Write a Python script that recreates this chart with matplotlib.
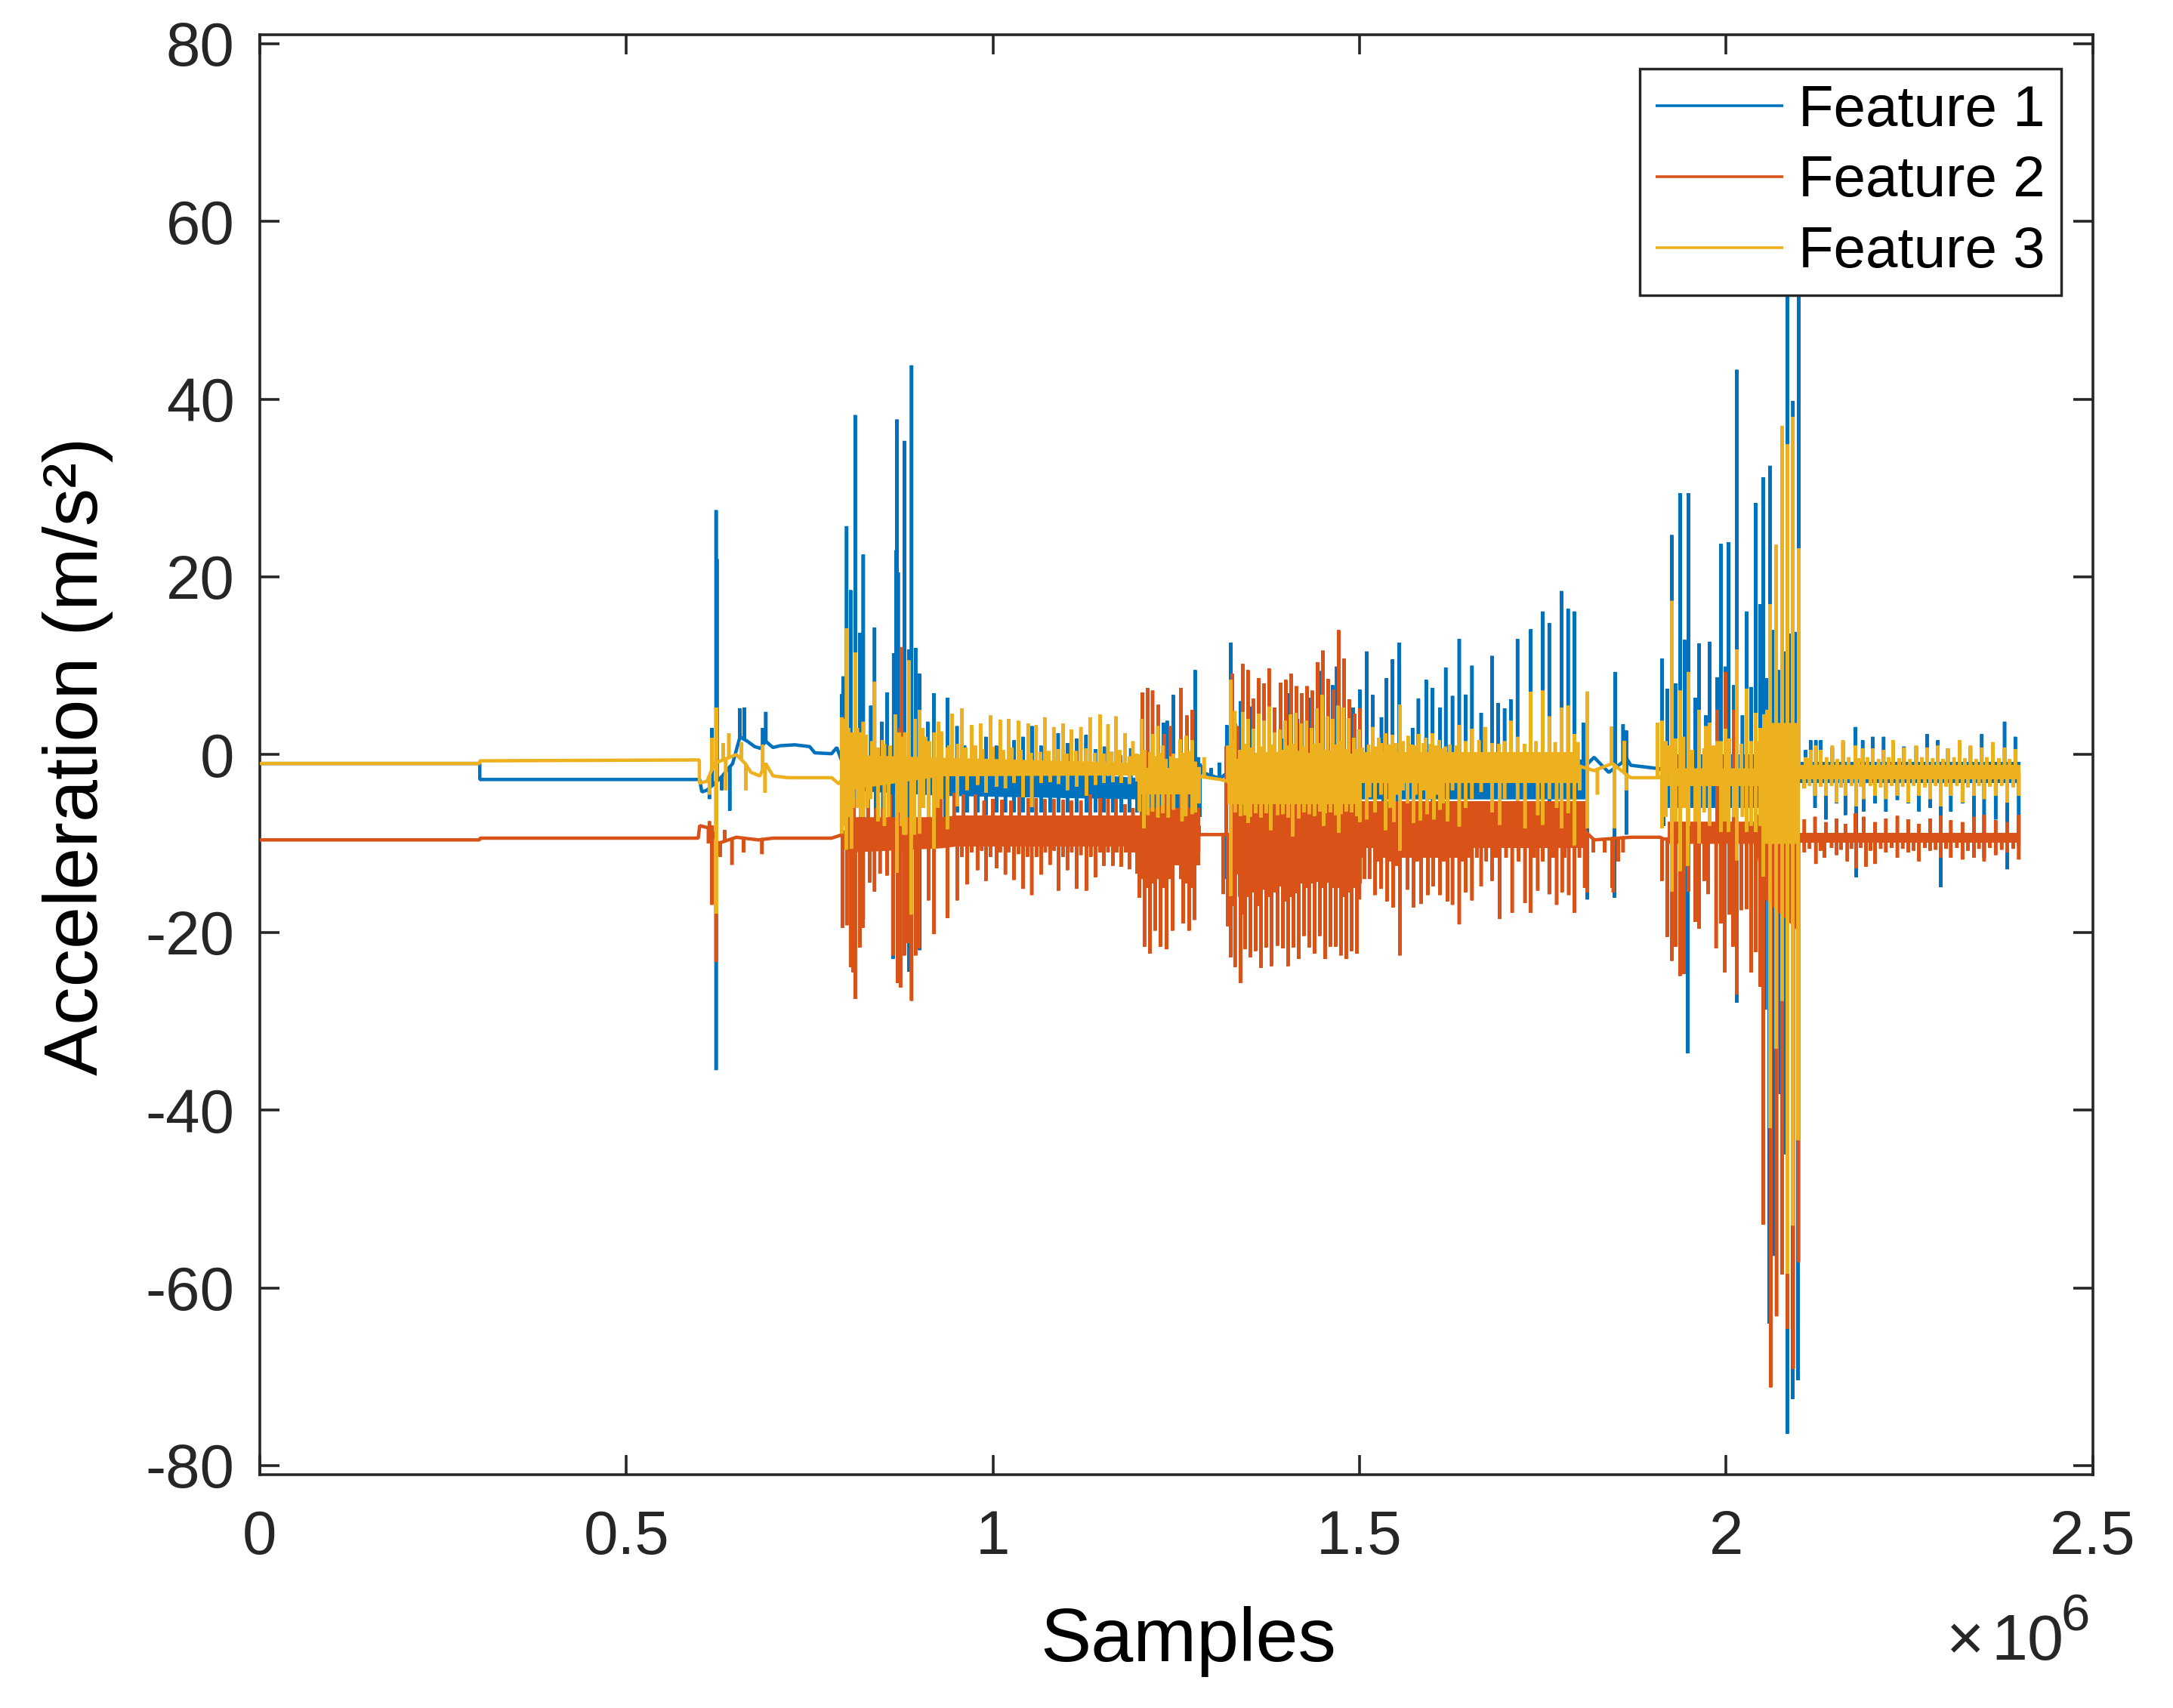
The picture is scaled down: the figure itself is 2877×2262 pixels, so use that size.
import numpy as np
import matplotlib
matplotlib.use("Agg")
import matplotlib.pyplot as plt

W, H, DPI = 2877, 2262, 300
plt.rcParams['font.family'] = ['Liberation Sans', 'DejaVu Sans']
plt.rcParams['axes.unicode_minus'] = False

x_ticks = [0, 0.5e6, 1e6, 1.5e6, 2e6, 2.5e6]
x_labels = ['0', '0.5', '1', '1.5', '2', '2.5']
y_ticks = [-80, -60, -40, -20, 0, 20, 40, 60, 80]
y_labels = ['-80', '-60', '-40', '-20', '0', '20', '40', '60', '80']
names = ['Feature 1', 'Feature 2', 'Feature 3']

# slow baseline of each series: (samples / 1e6, value)
f1_mid = [(0,-1),(.3,-1),(.3001,-2.8),(.6,-2.8),(.603,-4.2),(.61,-4),(.63,-2.5),(.645,-1),(.655,2),(.665,1.5),
          (.675,.9),(.683,.7),(.69,1.5),(.70,.8),(.71,1),(.73,1.1),(.75,.9),(.757,.2),(.78,.1),(.787,.8),(.795,-1),
          (1.2,-3.5),(1.285,-2),(1.31,-2.7),(1.32,-2),(1.5,-2.5),(1.8,-2),(1.82,-.3),(1.84,-2),(1.865,-.5),
          (1.87,-1.2),(1.91,-1.6),(1.915,-2),(2.1,-2),(2.4013,-2)]
f2_mid = [(0,-9.6),(.3,-9.6),(.3001,-9.4),(.598,-9.4),(.6,-8),(.615,-8.3),(.625,-10),(.65,-9.3),(.68,-9.6),(.70,-9.4),
          (.78,-9.4),(.795,-9),(.8,-8.5),(1.2,-9),(1.285,-9),(1.32,-9),(1.5,-9),(1.8,-8),(1.82,-9.6),(1.87,-9.3),
          (1.91,-9.3),(1.915,-9.5),(2.4013,-9.2)]
f3_mid = [(0,-1),(.3,-1),(.3001,-.7),(.5995,-.6),(.5996,-3.2),(.61,-3),(.62,-1),(.65,0),(.662,-1),(.67,-2),(.682,-2.4),
          (.69,-1),(.70,-2.4),(.72,-2.6),(.78,-2.6),(.79,-3.3),(.8,-2),(.93,-1.2),(1.2,-1.6),(1.285,-2.5),(1.31,-2.8),
          (1.32,-3),(1.5,-2.8),(1.8,-1.3),(1.82,-1.8),(1.845,-1),(1.865,-2.3),(1.87,-2.6),(1.91,-2.6),(1.915,-2),
          (2.1,-2),(2.4013,-2)]

# solid core of the dense parts: (samples / 1e6, upper, lower)
f1_core = [[(.80,-1,-4),(.93,-1,-4.6),(1.2,-2.6,-5)], [(1.2,-1,-7),(1.285,-1,-7)], [(1.322,0,-7),(1.5,-.5,-6),(1.5,-.5,-5),(1.81,-.5,-5)],
           [(1.92,0,-6),(2.1,0,-6)], [(2.1,-.8,-3.2),(2.4013,-.8,-3.2)]]
f2_core = [[(.80,-7,-11),(.93,-7,-10.5),(.95,-6.8,-10.3),(1.2,-6.8,-10.3)], [(1.2,-6,-12.5),(1.283,-6,-12.5)],
           [(1.322,-5.5,-13.5),(1.5,-5.5,-13.5)], [(1.5,-5.2,-10.5),(1.81,-5.2,-10.5)],
           [(1.92,-7.5,-10),(2.04,-7.5,-10),(2.05,-5,-16),(2.1,-5,-20)], [(2.1,-8.8,-9.9),(2.4013,-8.8,-9.9)]]
f3_core = [[(.80,0,-4),(.93,-.3,-2.4),(1.2,-.9,-2.3)], [(1.2,-1.5,-4.5),(1.283,-1.5,-4.5)],
           [(1.32,-.5,-5.6),(1.5,-.5,-5.6)], [(1.5,.3,-3.2),(1.8,.3,-3.2)],
           [(1.92,-1.5,-3.5),(2.045,-1.5,-3.5),(2.05,3.6,-10),(2.1,3.6,-10)], [(2.1,-1.2,-2.8),(2.4013,-1.2,-2.8)]]

# peaks and troughs: (samples / 1e6, value)
f1_peaks = [(.6166,3),(.6224,27.5),(.6235,22),(.6545,5.2),(.6608,5.3),(.686,3),(.6902,4.8),
            (.794,6.8),(.7956,8.8),(.8004,25.7),(.8059,18.5),(.8121,38.2),(.8183,13.7),(.8231,22.5),(.8334,5.5),
            (.8385,14.3),(.8482,3.7),(.8554,7),(.8646,11.4),(.8682,23),(.8691,37.7),(.8707,20.5),(.8791,35.3),(.8853,11.8),
            (.889,43.8),(.8945,12),(.8997,9.1),(.911,3.7),(.9193,6.9),(.9378,6.4),(.951,3.2),(.9613,1),(.972,.5),(.9904,2),
            (1.0048,1),(1.029,1.6),(1.0409,2),(1.0532,3.2),(1.0656,1),(1.089,2.4),(1.1016,1.3),(1.114,1.8),(1.127,2.2),
            (1.14,.6),(1.152,.9),(1.162,.3),(1.174,-.1),(1.188,.7),(1.2325,3.6),(1.2376,3.8),(1.246,6.7),(1.2758,9.5),
            (1.28,-.3),(1.284,-1.2),(1.2974,-1.5),(1.3088,-.9),(1.319,3.3),(1.3242,12.6),(1.3303,3.5),(1.3376,6),(1.352,5.4),
            (1.3767,3.8),(1.384,2.4),(1.3953,1.8),(1.4035,6.9),(1.4155,4),(1.433,6.4),(1.4478,9.4),(1.4633,7.8),
            (1.469,9.9),(1.4912,5.3),(1.5004,7.3),(1.5097,11.6),(1.518,6.7),(1.53,4.2),(1.5367,8.6),(1.545,10.7),(1.5542,12.6),
            (1.5724,3),(1.5804,6.3),(1.591,8.4),(1.5997,7.5),(1.6098,5.3),(1.6177,9.8),(1.6269,6.6),(1.6361,13),
            (1.6448,6.75),(1.6535,10),(1.666,4.7),(1.6807,11.1),(1.689,5.8),(1.698,5.2),(1.7064,6.2),(1.7156,13),(1.7336,14.1),
            (1.7497,16.1),(1.7589,14.8),(1.7755,18.4),(1.7846,16.4),(1.793,16.1),(1.8053,3.6),(1.8486,9.3),(1.8596,3.4),(1.864,2.7),
            (1.9126,10.8),(1.92,7.4),(1.926,24.7),(1.9312,8),(1.9373,29.4),(1.9435,12.9),(1.9487,29.4),(1.958,6.4),(1.9631,12.5),
            (1.9724,4.4),(1.9775,12.7),(1.9878,8.7),(1.993,23.7),(1.9992,9.9),(2.0033,23.9),(2.0105,7.8),(2.0146,43.3),
            (2.0224,4.4),(2.028,16.1),(2.0342,7.6),(2.0404,28.3),(2.0466,16.9),(2.0507,31.2),(2.056,8.6),(2.06,32.5),(2.0638,14),
            (2.0682,23),(2.0714,9.5),(2.0795,11.6),(2.0837,58),(2.0878,13.6),(2.0913,39.8),(2.0947,13.8),(2.0991,58),
            (2.1087,.5),(2.1154,1.6),(2.1225,1.6),(2.1292,1.6),(2.145,.8),(2.1596,1.4),(2.1766,3.1),(2.1864,1.6),(2.2,2),(2.215,2),
            (2.2278,.9),(2.2428,.9),(2.2594,.9),(2.2743,2.3),(2.289,1.6),(2.3027,.7),(2.3185,1.4),(2.3335,.9),(2.3489,2.3),
            (2.3639,.9),(2.38,3.7),(2.3946,2)]
f1_dips = [(.6132,-5),(.6224,-35.5),(.63,-4),(.641,-6.3),(.8,-9),(.81,-10),(.82,-10),(.84,-9),(.85,-8),(.86,-8),(.8231,-18.5),(.8636,-23),
           (.8853,-24.4),(.9,-22),(.935,-7),
           (.9512,-6.5),(.9646,-6.5),(.979,-6.5),(.9904,-6.8),(1.0048,-6.5),(1.017,-6.5),(1.0285,-6.5),(1.0409,-6.5),(1.0532,-6.5),
           (1.0656,-6.5),(1.0779,-6.5),(1.0893,-6.5),(1.1016,-6.5),(1.114,-6.5),(1.1274,-6.5),(1.1398,-6.5),(1.1514,-6.5),
           (1.1635,-6.5),(1.1748,-6.5),(1.1861,-6.5),(1.1965,-6.5),(1.2305,-12),(1.2518,-10),(1.2758,-8.5),(1.318,-14),
           (1.358,-9),(1.373,-9.5),(1.5323,-10.2),(1.5416,-11.7),(1.551,-11.2),(1.6,-9),(1.7589,-15.7),(1.8109,-16.3),(1.8477,-16.1),
           (1.864,-9),(1.915,-8),(1.9476,-33.6),(2.0146,-27.9),(2.0534,-28.7),(2.0589,-64),(2.065,-56.4),(2.074,-38.2),(2.0805,-45),
           (2.0837,-76.4),(2.0909,-72.5),(2.0981,-70.4),(2.1068,-3.8),(2.1214,-6),(2.1363,-7.3),(2.151,-5.5),(2.1628,-6.8),(2.1778,-13.8),
           (2.1876,-6.4),(2.2034,-5.5),(2.2181,-6.4),(2.2337,-5.1),(2.2487,-5.5),(2.2633,-6.4),(2.2783,-6),(2.293,-14.9),(2.3067,-6.4),
           (2.3225,-5.5),(2.3382,-11.6),(2.3521,-11.6),(2.3678,-7.3),(2.3836,-12.9),(2.3994,-10.3)]

f2_peaks = [(.6132,-7.5),(.617,-8),(.634,-8.5),(.875,12.1),(.8734,3),(.9121,-1.7),(.9292,-4.3),(.947,-4.3),(.96,-4.5),(.976,-4.5),
            (.801,-5),(.81,-5),(.82,-4.5),(.83,-4),(.84,-6),(.85,-6),(.86,-4.5),(.87,-3),(.88,-5),(.89,-4),(.90,-6),(.925,-3),
            (.988,-5.2),(1.0,-5),(1.0125,-5.1),(1.0246,-5.2),(1.036,-4.8),(1.048,-4.9),
            (1.059,-4.9),(1.0707,-5),(1.083,-5),(1.096,-5.1),(1.107,-5.2),(1.12,-5.2),(1.1325,-4.5),(1.146,-4.9),(1.157,-5),(1.1676,-5),(1.18,-5.6),(1.191,-6),
            (1.207,-5.5),(1.2145,-6),(1.2215,-6.2),(1.229,-5.8),(1.2376,-5.8),(1.25,-6.5),(1.2599,-6),(1.2675,-6),(1.276,-7),(1.281,-8),
            (1.2037,7),(1.2109,7.5),(1.2178,7.2),(1.2256,5.6),(1.2336,2.3),(1.2421,3.2),(1.2562,7.5),(1.2645,4.4),(1.2717,5),
            (1.318,.9),(1.3263,9.1),(1.3333,3.2),(1.3407,10.2),(1.3479,9.5),(1.3551,6.3),(1.3623,8.6),(1.3695,8),(1.3767,9.7),
            (1.384,5.3),(1.3922,8.1),(1.3994,8.4),(1.4066,9.1),(1.4138,7.7),(1.4211,6.9),(1.4283,7.7),(1.4355,7.2),(1.4427,10.4),
            (1.4499,11.7),(1.4571,8.5),(1.4643,7.3),(1.4716,14),(1.4788,10.8),(1.486,6.2),(1.4932,4.6),(1.5004,5.2),
            (1.9878,5),(1.9992,9.3),(2.0105,5),
            (2.1068,-7.3),(2.1214,-7),(2.1363,-7.6),(2.151,-7.2),(2.1628,-7.8),(2.1766,-6.6),(2.1876,-7),(2.2034,-7.6),(2.2181,-7.2),
            (2.2337,-6.9),(2.2487,-7.3),(2.2633,-7.8),(2.2783,-7.2),(2.293,-6.9),(2.3067,-7.4),(2.3225,-7.6),(2.3382,-7),(2.3521,-6.8),
            (2.3678,-7.4),(2.3836,-7.6),(2.3994,-6.8)]
f2_dips = [(.612,-10),(.6166,-16.9),(.6224,-23.3),(.6282,-11.5),(.644,-12.4),(.66,-11),(.685,-11.2),
           (.7946,-19.5),(.8007,-19.2),(.8059,-23.9),(.8095,-24.5),(.8121,-27.5),(.8183,-21.7),(.8224,-19.5),(.8317,-14.4),(.8385,-15.4),
           (.846,-13.4),(.8554,-13.6),(.8636,-22.6),(.8698,-25.7),(.8739,-26.2),(.8791,-22.6),(.8842,-21.2),(.889,-27.7),(.8945,-22.6),
           (.8987,-21.8),(.9121,-16.4),(.9193,-20.2),(.9378,-18.4),(.9512,-16.4),(.9646,-14.6),(.979,-13),(.9904,-14.2),(1.0048,-12.8),
           (1.017,-13.5),(1.0285,-14.1),(1.0409,-15.1),(1.053,-15.8),(1.0656,-13.5),(1.0779,-12.4),(1.0893,-15.3),(1.1016,-13),
           (1.114,-15.1),(1.1274,-15.3),(1.1398,-13.8),(1.1514,-12.5),(1.1635,-12.5),(1.1748,-12.6),(1.1861,-12.9),(1.1965,-13.4),
           (.9575,-11.5),(.9708,-11),(.9848,-10.8),(.9966,-11.5),(1.0099,-11),(1.0213,-11),(1.0347,-11.2),(1.047,-11.5),
           (1.0596,-11.5),(1.0715,-11),(1.0835,-10.8),(1.0955,-11.5),(1.1075,-11),(1.12,-11.3),(1.1335,-11.5),(1.146,-11),(1.157,-11),(1.169,-11),(1.181,-11),(1.1915,-11),
           (1.2037,-14),(1.2109,-15),(1.2178,-14.5),(1.2256,-14),(1.2325,-15),(1.2421,-14),(1.2562,-14),(1.2634,-14.5),(1.2717,-15),
           (1.2,-16.1),(1.2067,-21.6),(1.214,-22.4),(1.2212,-19.8),(1.2284,-21.6),(1.2366,-21.9),(1.2449,-19.8),(1.2531,-11.7),(1.2593,-19),
           (1.2675,-19.8),(1.275,-18.6),(1.2806,-11),(1.314,-15.7),(1.3204,-19.3),(1.3242,-22.8),(1.3303,-23.9),(1.3376,-25.7),(1.3438,-21.9),
           (1.351,-22.8),(1.3582,-22.1),(1.3654,-24),(1.3726,-21.7),(1.3798,-23.8),(1.3881,-21.5),(1.3953,-21.8),(1.4025,-23.8),(1.4097,-21.7),
           (1.417,-23),(1.4241,-20.4),(1.4313,-21.7),(1.4386,-22.4),(1.4458,-20.4),(1.453,-23),(1.4602,-21.6),(1.4674,-21.6),(1.4746,-22.6),
           (1.4819,-23),(1.4891,-22.1),(1.4963,-22.4),
           (1.3206,-15),(1.3278,-17),(1.337,-16),(1.3407,-18),(1.3479,-16),(1.3551,-15.5),(1.3623,-17),(1.3695,-15.2),(1.3767,-16),(1.384,-15.5),
           (1.3922,-14.8),(1.3994,-16.5),(1.4066,-16),(1.4138,-15.6),(1.4211,-14.5),(1.4283,-15),(1.4355,-14.5),(1.4427,-14.3),(1.4499,-15),
           (1.4571,-14.4),(1.4643,-15),(1.4716,-15),(1.4788,-16),(1.486,-15.5),(1.4932,-15),(1.5004,-14.5),
           (1.5,-16.3),(1.507,-14),(1.5137,-14),(1.521,-15.8),(1.5293,-15.1),(1.5375,-16.5),
           (1.5458,-17.2),(1.555,-22.6),(1.5653,-15.2),(1.5736,-17.2),(1.5839,-16.8),(1.5931,-15.8),(1.6004,-14.8),(1.6096,-15.8),(1.6199,-16.5),
           (1.6269,-16.9),(1.6361,-19.1),(1.6448,-15.5),(1.6535,-16.4),(1.666,-14.8),(1.6807,-14.2),(1.6913,-18.5),(1.7083,-17.8),(1.7258,-16.7),
           (1.7336,-17.8),(1.7432,-15.3),(1.7589,-15.7),(1.769,-16.9),(1.7764,-15.5),(1.7855,-15.8),(1.793,-17.8),(1.8072,-15),(1.8109,-15.5),
           (1.5045,-11.6),(1.525,-12),(1.5335,-11.6),(1.5415,-12),(1.5504,-12.5),(1.5601,-11.6),(1.5695,-11.6),(1.5787,-12),(1.5885,-11.6),(1.5968,-11.6),
           (1.605,-11.6),(1.6148,-12),(1.6233,-11.6),(1.632,-11.6),(1.641,-12),(1.649,-11.6),(1.66,-11.6),(1.673,-12),(1.686,-11.6),(1.7,-11.6),(1.717,-12),
           (1.738,-11.6),(1.75,-12),(1.764,-11.6),(1.78,-11.6),(1.80,-11.6),
           (1.8192,-11),(1.8345,-11),(1.8448,-15),(1.8463,-15.5),(1.853,-12),(1.8596,-11),
           (1.9126,-14.2),(1.9198,-20.5),(1.926,-23.2),(1.9312,-21.6),(1.9373,-24.9),(1.9425,-24.7),(1.9487,-15.4),(1.958,-18.8),(1.9631,-19.6),
           (1.9703,-14.2),(1.9755,-15.7),(1.9865,-21.8),(1.993,-19),(1.9981,-24.5),(2.0043,-18),(2.0095,-21.6),(2.0146,-27),(2.0208,-17.5),
           (2.028,-17.4),(2.0342,-24.5),(2.0404,-22.2),(2.0466,-26.1),(2.0507,-52.9),(2.061,-71.2),(2.0689,-63.2),(2.0765,-58.5),(2.0837,-64.6),
           (2.0916,-69.1),(2.0988,-57.1),(2.1068,-11),(2.1225,-12.3),(2.1342,-11.6),(2.151,-11.3),(2.1655,-12),(2.1778,-12.8),(2.191,-12.6),
           (2.2034,-12.3),(2.2181,-11),(2.2337,-11.6),(2.2487,-11),(2.2633,-12),(2.2783,-10.8),(2.293,-11.6),(2.3067,-11.6),(2.3225,-11.8),
           (2.3382,-11.6),(2.3521,-12),(2.3678,-11.3),(2.3836,-11),(2.3994,-11.8),
           (2.114,-10.6),(2.129,-10.8),(2.144,-10.5),(2.157,-10.7),(2.171,-10.6),(2.184,-10.5),(2.197,-10.8),(2.211,-10.6),(2.226,-10.5),(2.241,-10.6),
           (2.256,-10.8),(2.271,-10.5),(2.286,-10.7),(2.3,-10.6),(2.315,-10.5),(2.33,-10.8),(2.345,-10.6),(2.36,-10.5),(2.376,-10.7),(2.392,-10.6)]

f3_peaks = [(.6166,1.9),(.6229,5.3),(.6319,1.3),(.6398,2.4),(.6571,1.4),(.686,1.1),
            (.794,4.2),(.8004,14.2),(.8121,11.5),(.8231,3.7),(.8385,8.2),(.8492,1.6),(.8667,4.5),(.8853,10.6),(.8997,5),(.908,2),
            (.797,4),(.803,3),(.808,2.5),(.815,3),(.82,2.5),(.827,2.2),(.835,1.5),(.843,.8),(.852,1.2),(.86,1),(.872,2.5),(.876,2),(.88,2.5),
            (.894,4),(.9045,3),(.9135,1.5),(.92,2.5),(.93,2.6),(.94,1),
            (.9258,3.7),(.9378,.8),(.9440,4.6),(.9575,5.2),(.9708,3.3),(.9831,3.5),(.9966,4.4),(1.0099,3.9),(1.0213,4),(1.0347,3.8),
            (1.048,3.5),(1.059,3.3),(1.0707,4.2),(1.083,3.1),(1.096,3.5),(1.107,2.8),(1.12,3.1),(1.1325,4.2),(1.146,4.5),(1.157,3.4),
            (1.1676,4.3),(1.18,2.4),(1.191,1.5),
            (.952,1.2),(.963,.8),(.976,1),(.986,.6),(1.0,.9),(1.014,.5),(1.026,.8),(1.038,.5),(1.052,.2),(1.065,.3),(1.076,.4),(1.089,.6),
            (1.101,.1),(1.113,.4),(1.127,.7),(1.139,.2),(1.151,.1),(1.162,.3),(1.173,.5),(1.186,-.2),(1.196,.1),
            (1.203,4),(1.218,2.3),(1.225,3.2),(1.232,1),(1.246,.1),(1.2555,1.7),(1.2634,2.1),(1.2717,1.6),
            (1.2,0),(1.207,.5),(1.2145,.3),(1.2215,-.2),(1.229,.2),(1.236,-.5),(1.243,-.2),(1.25,-.4),(1.259,.2),(1.2675,.4),(1.276,-.8),(1.281,-1.4),
            (1.288,-.3),(1.3242,8.4),(1.33,4.9),(1.3407,4.8),(1.3479,4),(1.3551,2.9),(1.3623,4.6),(1.3695,3.8),(1.3767,5.4),(1.384,2.5),
            (1.3912,2.8),(1.3984,3.8),(1.4059,4.5),(1.4128,4.7),(1.42,3.5),(1.4272,3.8),(1.4345,3),(1.4417,5.2),(1.4489,6.7),(1.4561,4.3),
            (1.4633,4),(1.4705,5.5),(1.4777,5.3),(1.485,4.1),(1.4922,1.9),(1.4994,2.8),
            (1.3206,1),(1.3278,1.5),(1.337,.5),(1.3443,1.2),(1.3515,.8),(1.3587,.2),(1.3659,.9),(1.3731,.3),(1.3803,1.1),(1.3876,.3),(1.3948,.5),
            (1.402,1),(1.4094,1.2),(1.4164,.4),(1.4236,.9),(1.4309,.2),(1.4381,1.2),(1.4453,1.3),(1.4525,.5),(1.4597,.4),(1.4669,1.1),(1.4741,1.5),
            (1.4814,.6),(1.4886,.1),(1.4958,.6),
            (1.518,3.1),(1.5261,1.9),(1.5354,2.4),(1.5447,2.2),
            (1.555,5.6),(1.5663,2.1),(1.5808,2.3),(1.5901,1.9),(1.5994,2.4),(1.6086,1.6),(1.6169,.9),(1.6361,3.3),(1.6535,2.9),(1.6715,3.1),
            (1.7064,3.8),(1.7336,7.05),(1.7497,7.2),(1.7589,4.3),(1.7755,5.3),(1.7846,5.5),(1.793,2.3),(1.8109,7.1),(1.844,3.15),(1.8615,1.55),
            (1.504,.8),(1.5125,1.1),(1.5225,.9),(1.5293,1.3),(1.5405,1.1),(1.5497,1.3),(1.5597,1.5),(1.5715,1.1),(1.5766,1),(1.5875,1.3),(1.5966,1.2),
            (1.6048,1),(1.6142,.7),(1.6231,1.1),(1.6318,1),(1.6448,1.5),(1.663,1.6),(1.672,1.4),(1.681,1.3),(1.69,1.2),(1.698,1.5),(1.716,2),(1.725,1.2),
            (1.741,1.5),(1.767,1.4),(1.785,1.2),(1.798,1.4),
            (1.9064,3.6),(1.9126,3.8),(1.926,17.3),(1.9373,7.2),(1.9487,9.3),(1.9631,5),(1.9724,3.2),(1.9775,3.6),(1.9878,1.5),(1.9992,2.9),
            (1.918,1.5),(1.9215,1),(1.9312,1.8),(1.942,2),(1.954,.5),(1.97,.7),(1.983,1),(1.993,1.5),(2.0043,1.8),(2.021,1.2),(2.034,1.5),(2.044,1.5),
            (2.0146,11.8),(2.028,7.4),(2.0404,4.7),(2.0466,3),(2.0517,4.5),(2.056,5),(2.06,16.9),(2.0682,23.6),(2.0765,37),(2.0837,34.9),
            (2.0909,38),(2.0991,23.2),
            (2.1087,-.3),(2.1154,.5),(2.1225,1),(2.1292,.5),(2.145,1),(2.1596,1.6),(2.1766,1),(2.1864,.7),(2.2,.7),(2.215,.5),
            (2.2278,1.6),(2.2428,.8),(2.2594,1),(2.2743,.8),(2.289,1),(2.3027,.7),(2.3185,1.6),(2.3335,1),(2.3489,.8),(2.3639,1.4),(2.38,.8),(2.3946,.6),
            (2.1135,-.4),(2.137,-.3),(2.152,-.5),(2.167,-.3),(2.181,-.4),(2.193,-.3),(2.208,-.5),(2.222,-.3),(2.236,-.4),(2.251,-.5),(2.267,-.3),
            (2.282,-.4),(2.296,-.5),(2.311,-.3),(2.326,-.4),(2.341,-.5),(2.356,-.3),(2.372,-.4),(2.387,-.5)]
f3_dips = [(.6132,-4.5),(.6229,-17.9),(.6356,-4),(.6631,-4),(.6892,-4.3),
           (.794,-8.9),(.8,-10.7),(.8069,-10.6),(.8231,-7),(.8688,-13.3),(.8783,-9),(.8883,-18),(.8997,-8.9),(.9193,-10.6),(.9378,-8.4),
           (.797,-8),(.803,-7),(.809,-6),(.815,-6),(.82,-7),(.829,-6),(.833,-5),(.843,-7.5),(.852,-8),(.858,-7),(.87,-6.5),(.875,-8),(.881,-9),
           (.893,-9),(.905,-6),(.912,-7),(.925,-6),(.93,-5),
           (.9512,-5.8),(.9904,-4.3),(1.0409,-4.8),(1.053,-5.9),(1.1016,-4),(1.1274,-4.6),
           (.9646,-4),(.979,-3.4),(1.0048,-3.6),(1.017,-3.8),(1.0285,-3.2),(1.0656,-3.2),(1.0779,-3.1),(1.0893,-3.3),(1.114,-3.6),(1.1398,-3.4),
           (1.1514,-3.2),(1.1635,-3.1),(1.1748,-3.2),(1.1861,-3.3),(1.1965,-3),
           (1.2,-6.4),(1.2115,-6.8),(1.2178,-6.4),(1.232,-6.6),(1.2465,-6.2),(1.2631,-6.9),(1.2717,-6.7),(1.2758,-6.5),(1.281,-5.5),
           (1.2057,-8.3),(1.225,-7.1),(1.2393,-7.1),(1.258,-7.5),
           (1.3242,-15.9),(1.348,-7.7),(1.379,-8.5),(1.4087,-9.2),(1.4509,-8),(1.4716,-8.8),(1.5004,-7.6),(1.5097,-7.3),(1.5354,-8.5),(1.5468,-7.6),
           (1.3303,-6.5),(1.3376,-6.9),(1.3438,-6.8),(1.351,-7),(1.3582,-6.6),(1.3654,-7.1),(1.3726,-6.6),(1.3881,-6.8),(1.3953,-6.7),(1.4025,-7.1),
           (1.417,-7.2),(1.4241,-6.5),(1.4313,-6.7),(1.4386,-6.9),(1.4458,-6.4),(1.453,-6.6),(1.4602,-6.5),(1.4674,-6.8),(1.4746,-6.7),(1.4819,-6.4),
           (1.4891,-6.5),(1.4963,-6.9),
           (1.5137,-4.8),(1.521,-6.5),(1.5293,-4.5),(1.5416,-6),(1.551,-4.5),(1.5597,-4),(1.5653,-5.5),(1.5766,-4.5),(1.5875,-4),(1.5966,-5),(1.6057,-4.5),
           (1.6142,-5.5),(1.6269,-4),(1.6448,-6),(1.6535,-5),(1.666,-4.2),(1.6807,-6.5),(1.698,-5),(1.7156,-5.2),(1.7432,-6.8),(1.7589,-5),(1.769,-6),
           (1.7846,-6.6),(1.8004,-4),
           (1.555,-10.8),(1.5736,-7.7),(1.5829,-7.4),(1.5921,-6.7),(1.6014,-7.3),(1.6096,-6.2),(1.6199,-7.5),(1.6361,-8.1),(1.691,-7.9),(1.7258,-8.3),
           (1.7497,-7.9),(1.7755,-8.3),(1.793,-10.2),(1.8109,-8.3),(1.8246,-4.5),(1.8477,-8.3),(1.864,-4),
           (1.9126,-8.3),(1.926,-15.4),(1.9373,-13.1),(1.9476,-12.5),(1.9631,-10),(1.9775,-8),(1.9878,-3),(1.993,-8.7),(2.0033,-8.7),(2.0146,-11.9),
           (1.918,-7),(1.9312,-7.5),(1.9425,-6),(1.9487,-8),(1.958,-7.5),(1.97,-6.5),(1.9981,-7.5),(2.0105,-7),(2.0224,-7),(2.0342,-8),(2.0466,-8),
           (2.028,-8.7),(2.0404,-8.7),(2.0507,-13.7),(2.06,-42),(2.0682,-33.1),(2.0765,-27.7),(2.0837,-58.4),(2.0912,-53),(2.0985,-43.4),
           (2.1068,-3.8),(2.1214,-4.6),(2.1363,-4.6),(2.151,-5.4),(2.1628,-4.6),(2.1778,-5.8),(2.1876,-5),(2.2034,-4.6),(2.2181,-5),(2.2337,-4.6),
           (2.2487,-5.4),(2.2633,-4.6),(2.2783,-5),(2.293,-5.8),(2.3067,-4.6),(2.3225,-5.4),(2.3382,-4.6),(2.3521,-5),(2.3678,-4.6),(2.3836,-5.4),(2.3994,-4.6),
           (2.114,-3.5),(2.129,-3.6),(2.144,-3.5),(2.157,-3.7),(2.171,-3.5),(2.184,-3.6),(2.197,-3.5),(2.211,-3.7),(2.226,-3.5),(2.241,-3.6),
           (2.256,-3.5),(2.271,-3.7),(2.286,-3.5),(2.3,-3.6),(2.315,-3.5),(2.33,-3.7),(2.345,-3.5),(2.36,-3.6),(2.376,-3.5),(2.392,-3.7)]

series = [
    (f1_mid, f1_peaks + f1_dips, f1_core, '#0072BD'),
    (f2_mid, f2_peaks + f2_dips, f2_core, '#D95319'),
    (f3_mid, f3_peaks + f3_dips, f3_core, '#EDB120'),
]


def trace(mid, events):
    mx, my = np.array(mid, float).T
    ex, ey = np.array(sorted(events), float).T
    base = np.interp(ex, mx, my)
    tx = np.concatenate([mx, ex, ex, ex])
    ty = np.concatenate([my, base, ey, base])
    rank = np.concatenate([np.zeros(len(mx)), np.ones(len(ex)), np.full(len(ex), 2), np.full(len(ex), 3)])
    order = np.lexsort((rank, tx))
    return tx[order] * 1e6, ty[order]


fig = plt.figure(figsize=(W / DPI, H / DPI), dpi=DPI)
L, R, T, B = 344, 2770.5, 46, 1952.7
ax = fig.add_axes([L / W, 1 - B / H, (R - L) / W, (B - T) / H])
INK = '#262626'
PX = 72 / DPI
LW = 4.5 * PX

for i, (mid, events, core, col) in enumerate(series):
    z = 2 + i
    for b in core:
        bx, bh, bl = np.array(b, float).T
        ax.fill_between(bx * 1e6, bl, bh, color=col, lw=0, zorder=z)
    tx, ty = trace(mid, events)
    ax.plot(tx, ty, color=col, lw=LW, label=names[i], zorder=z, solid_joinstyle='bevel', solid_capstyle='butt')

ax.set_xlim(0, 2.5e6)
ax.set_ylim(-81, 81)
ax.set_xticks(x_ticks, x_labels)
ax.set_yticks(y_ticks, y_labels)
ax.tick_params(direction='in', top=True, right=True, length=26 * PX, width=3.6 * PX, color=INK,
               labelcolor=INK, labelsize=19.6, pad=8)
ax.tick_params(axis='x', pad=11)
for s in ax.spines.values():
    s.set_linewidth(3.6 * PX)
    s.set_color(INK)

leg = ax.legend(loc='upper left', bbox_to_anchor=(2171 / W, 1 - 91 / H), bbox_transform=fig.transFigure,
                fontsize=18.3, frameon=True, fancybox=False, framealpha=1, edgecolor=INK, borderaxespad=0,
                borderpad=0.27, labelspacing=0.30, handlelength=2.22, handletextpad=0.27, labelcolor='black')
leg.get_frame().set_linewidth(3.4 * PX)
leg.set_zorder(10)
for h in leg.get_lines():
    h.set_linewidth(3.6 * PX)

fig.text(1573 / W, 1 - 2200 / H, 'Samples', fontsize=24.2, ha='center', va='baseline', color='black')
fig.text(129 / W, 1 - 1001 / H, 'Acceleration (m/s\u00b2)', fontsize=24.2, rotation=90, ha='center', va='baseline',
         rotation_mode='anchor', color='black')
fig.text(2576 / W, 1 - 2198 / H, '\u00d7', fontsize=20.7, ha='left', va='baseline', color=INK)
fig.text(2636 / W, 1 - 2198 / H, '10', fontsize=20.7, ha='left', va='baseline', color=INK)
fig.text(2766.6 / W, 1 - 2160 / H, '6', fontsize=16.5, ha='right', va='baseline', color=INK)

fig.savefig('out.png', dpi=DPI)
